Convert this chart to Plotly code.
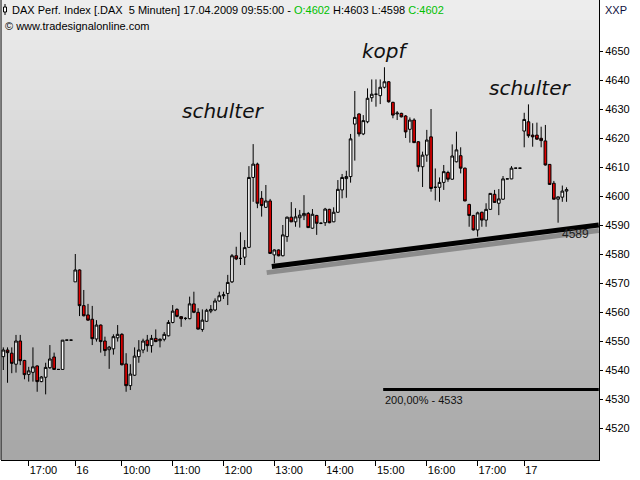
import plotly.graph_objects as go

# ---------------- data ----------------
opens = [4544.6, 4546.9, 4545.8, 4542.0, 4550.0, 4543.3, 4538.5, 4539.2, 4541.4, 4536.0,
         4537.5, 4540.8, 4544.5, 4540.2, 4540.2, 4550.3, 4550.3,
         4570.4, 4574.5, 4562.2, 4559.0, 4557.5, 4550.7, 4555.5, 4550.0, 4547.0, 4547.3,
         4551.1, 4552.3, 4542.1, 4534.6, 4538.2, 4544.6, 4546.9, 4550.3, 4548.4, 4550.9,
         4550.1, 4550.6, 4551.8, 4556.4, 4560.9, 4558.4, 4557.8, 4557.7, 4562.8, 4559.9,
         4554.0, 4556.8, 4560.3, 4560.7, 4563.8, 4565.6, 4566.4, 4570.4, 4579.4, 4578.5,
         4578.9, 4582.3, 4606.4, 4611.0, 4599.2, 4596.1, 4598.3, 4579.7, 4581.4, 4579.4,
         4586.0, 4592.7, 4591.1, 4592.5, 4593.2, 4594.0, 4588.9, 4593.3, 4590.6, 4590.8,
         4595.4, 4591.1, 4594.4, 4602.1, 4606.0, 4606.7, 4624.8, 4628.3, 4621.4, 4625.6,
         4633.9, 4635.1, 4634.6, 4637.5, 4639.4, 4632.3, 4628.3, 4628.5, 4627.6, 4623.0,
         4626.2, 4618.7, 4610.1, 4614.1, 4620.4, 4603.0, 4603.0, 4604.7, 4608.1, 4605.8,
         4611.8, 4613.9, 4609.6, 4597.1, 4593.3, 4588.3, 4594.4, 4591.7, 4595.4, 4600.6,
         4597.5, 4598.9, 4605.9, 4605.9, 4609.6, 4609.6,
         4622.4, 4625.6, 4621.0, 4621.0, 4619.9, 4619.0, 4610.9, 4604.4, 4598.9, 4599.6,
         4601.7]
highs = [4547.8, 4547.8, 4547.8, 4552.1, 4552.1, 4543.5, 4541.1, 4547.8, 4541.6, 4537.9,
         4542.5, 4548.6, 4546.0, 4540.2, 4550.3, 4550.3, 4550.3,
         4580.0, 4574.7, 4567.6, 4562.8, 4562.1, 4557.2, 4555.7, 4551.5, 4548.3, 4552.3,
         4555.5, 4552.7, 4545.8, 4542.0, 4547.8, 4550.3, 4550.8, 4552.1, 4552.1, 4554.0,
         4550.9, 4553.1, 4557.2, 4562.4, 4561.3, 4558.5, 4558.2, 4565.3, 4567.0, 4561.3,
         4560.9, 4561.1, 4562.4, 4564.7, 4567.0, 4567.0, 4572.8, 4580.0, 4582.5, 4587.5,
         4584.8, 4610.3, 4617.9, 4611.5, 4601.7, 4603.8, 4599.0, 4581.6, 4581.6, 4590.0,
         4592.9, 4597.9, 4595.8, 4595.2, 4600.3, 4594.5, 4595.5, 4593.5, 4590.9, 4595.9,
         4595.6, 4596.1, 4605.5, 4607.6, 4608.7, 4621.4, 4636.2, 4628.5, 4627.9, 4637.1,
         4640.2, 4640.2, 4640.2, 4644.4, 4639.6, 4632.5, 4629.3, 4628.7, 4627.9, 4627.1,
         4626.8, 4618.9, 4615.3, 4622.8, 4630.0, 4609.5, 4606.4, 4610.7, 4608.7, 4617.8,
         4622.2, 4616.8, 4609.8, 4597.3, 4593.5, 4594.6, 4594.6, 4597.5, 4601.0, 4602.1,
         4602.4, 4606.9, 4605.9, 4610.3, 4609.6, 4609.6,
         4628.7, 4631.6, 4625.1, 4625.3, 4623.9, 4624.5, 4611.0, 4605.2, 4599.8, 4603.6,
         4603.0]
lows = [4540.0, 4535.6, 4538.9, 4539.1, 4541.7, 4536.8, 4536.0, 4536.0, 4532.5, 4535.8,
        4531.6, 4540.4, 4540.0, 4540.2, 4540.2, 4550.3, 4550.3,
        4570.4, 4558.6, 4558.5, 4557.0, 4548.6, 4549.8, 4546.0, 4544.8, 4540.4, 4545.3,
        4549.8, 4541.6, 4532.5, 4533.1, 4538.0, 4542.5, 4545.8, 4546.3, 4546.0, 4549.6,
        4547.8, 4549.9, 4551.6, 4556.1, 4558.2, 4554.9, 4557.2, 4557.5, 4559.6, 4554.0,
        4553.2, 4556.6, 4559.6, 4560.3, 4563.6, 4564.5, 4562.4, 4570.0, 4577.9, 4576.2,
        4576.2, 4582.1, 4598.0, 4595.8, 4592.9, 4595.9, 4580.0, 4576.8, 4579.2, 4579.2,
        4584.2, 4591.0, 4589.4, 4589.1, 4591.7, 4589.0, 4588.7, 4586.6, 4590.3, 4589.7,
        4590.6, 4591.0, 4594.2, 4599.2, 4599.4, 4604.6, 4612.2, 4620.5, 4621.0, 4625.1,
        4632.5, 4630.8, 4631.7, 4637.1, 4632.2, 4626.8, 4626.2, 4627.1, 4620.0, 4618.4,
        4618.3, 4608.4, 4603.1, 4611.8, 4601.5, 4598.5, 4598.0, 4602.1, 4604.9, 4605.6,
        4611.6, 4607.8, 4598.2, 4589.4, 4588.1, 4586.0, 4589.4, 4589.4, 4595.2, 4597.6,
        4593.4, 4598.7, 4605.9, 4605.8, 4609.6, 4609.6,
        4616.8, 4620.1, 4617.0, 4619.4, 4616.8, 4610.5, 4603.8, 4598.8, 4590.8, 4598.0,
        4598.0]
closes = [4546.9, 4546.0, 4542.3, 4550.0, 4543.2, 4538.4, 4539.7, 4541.1, 4536.0, 4537.6,
          4540.9, 4543.8, 4540.2, 4540.2, 4550.3, 4550.3, 4550.3,
          4574.5, 4562.2, 4558.7, 4557.2, 4550.8, 4555.5, 4549.8, 4546.7, 4547.9, 4551.5,
          4552.3, 4541.8, 4534.6, 4538.6, 4544.8, 4546.9, 4550.0, 4548.4, 4550.9, 4549.8,
          4550.6, 4552.3, 4556.4, 4560.3, 4558.5, 4557.7, 4557.8, 4562.8, 4559.9, 4554.1,
          4557.2, 4560.6, 4560.9, 4563.8, 4565.6, 4565.9, 4570.2, 4579.4, 4578.3, 4578.5,
          4582.2, 4606.4, 4611.0, 4597.5, 4596.7, 4598.3, 4580.2, 4581.4, 4579.4, 4586.6,
          4592.7, 4591.1, 4592.8, 4593.4, 4594.0, 4589.1, 4593.7, 4590.6, 4590.6, 4595.5,
          4590.8, 4594.4, 4602.3, 4606.4, 4606.7, 4619.7, 4627.1, 4621.4, 4626.0, 4633.7,
          4635.1, 4635.1, 4637.5, 4639.4, 4632.5, 4627.9, 4628.6, 4627.3, 4622.1, 4626.2,
          4618.4, 4610.1, 4614.1, 4619.3, 4602.6, 4603.0, 4604.7, 4608.4, 4605.8, 4613.8,
          4615.9, 4609.6, 4598.3, 4593.3, 4588.3, 4594.2, 4591.7, 4595.4, 4600.9, 4597.8,
          4599.0, 4605.9, 4605.9, 4609.6, 4609.6, 4609.6,
          4626.4, 4620.8, 4620.4, 4619.6, 4619.1, 4610.7, 4604.0, 4598.9, 4599.7, 4601.7,
          4602.2]

# session days and bar times (5-minute bars)
def bar_times(day, start_h, start_m, count):
    out = []
    h, m = start_h, start_m
    for _ in range(count):
        out.append(f"{day} {h:02d}:{m:02d}")
        m += 5
        if m >= 60:
            m -= 60
            h += 1
    return out

times = bar_times("15.04", 16, 30, 17) + bar_times("16.04", 9, 5, 106) + bar_times("17.04", 9, 5, 11)
idx = list(range(len(times)))

tick_times = ["15.04 17:00", "16.04 09:05", "16.04 10:00", "16.04 11:00", "16.04 12:00",
              "16.04 13:00", "16.04 14:00", "16.04 15:00", "16.04 16:00", "16.04 17:00",
              "17.04 09:05"]
tick_text = ["17:00", "16", "10:00", "11:00", "12:00", "13:00", "14:00", "15:00", "16:00",
             "17:00", "17"]
y_ticks = [4520, 4530, 4540, 4550, 4560, 4570, 4580, 4590, 4600, 4610, 4620, 4630, 4640, 4650]

# support trend line (neckline) and 200% projection level
trend_x = [63.4, 140.6]
trend_y = [4575.7, 4590.0]
fib_x = [89.7, 140.6]
fib_level = 4533.3

pattern_labels = ["schulter", "kopf", "schulter"]

# ---------------- figure ----------------
FONT = "Liberation Sans, Arial, sans-serif"
fig = go.Figure()

# gradient background strips
n_strips = 46
shapes = []
for k in range(n_strips):
    c = int(round(238 - 72 * (k + 0.5) / n_strips))
    shapes.append(dict(type="rect", xref="paper", yref="paper", x0=0, x1=1,
                       y0=1 - (k + 1) / n_strips, y1=1 - k / n_strips,
                       fillcolor=f"rgb({c},{c},{c})", line=dict(width=0), layer="below"))
# left border
shapes.append(dict(type="line", xref="paper", yref="paper", x0=0, x1=0, y0=0, y1=1,
                   line=dict(color="black", width=1)))
# header candle icon
W, H = 598.0, 460.0
def px(x):
    return (x - 1) / W
def py(y):
    return 1 - y / H
shapes.append(dict(type="line", xref="paper", yref="paper", x0=px(5), x1=px(5), y0=py(4), y1=py(15),
                   line=dict(color="black", width=1)))
shapes.append(dict(type="rect", xref="paper", yref="paper", x0=px(3.5), x1=px(6.5), y0=py(12), y1=py(7),
                   fillcolor="white", line=dict(color="black", width=1)))

# trend line shadow + trend line
shadow_x = [trend_x[0] - 1.2, trend_x[1]]
slope = (trend_y[1] - trend_y[0]) / (trend_x[1] - trend_x[0])
shadow_y = [trend_y[0] - 1.9 - 1.2 * slope, trend_y[1] - 1.9]
fig.add_trace(go.Scatter(x=shadow_x, y=shadow_y, mode="lines",
                         line=dict(color="#8c8c8c", width=5), hoverinfo="skip", showlegend=False))
fig.add_trace(go.Scatter(x=trend_x, y=trend_y, mode="lines",
                         line=dict(color="black", width=5), hoverinfo="skip", showlegend=False))
fig.add_trace(go.Scatter(x=fib_x, y=[fib_level, fib_level], mode="lines",
                         line=dict(color="black", width=3), hoverinfo="skip", showlegend=False))

fig.add_trace(go.Candlestick(
    x=idx, open=opens, high=highs, low=lows, close=closes,
    increasing=dict(line=dict(color="black", width=1), fillcolor="white"),
    decreasing=dict(line=dict(color="black", width=1), fillcolor="#e00000"),
    whiskerwidth=0, showlegend=False, text=times, hoverinfo="text+y"))

tickvals = [times.index(t) for t in tick_times]
last = len(times) - 1
trend_last = trend_y[0] + slope * (last - trend_x[0])

green = "#00c000"
header = ("DAX Perf. Index [.DAX  5 Minuten] 17.04.2009 09:55:00 - "
          f"<span style='color:{green}'>O:{opens[-1]:.0f}</span> H:{highs[-1]:.0f} "
          f"L:{lows[-1]:.0f} <span style='color:{green}'>C:{closes[-1]:.0f}</span>")

hand = dict(family="DejaVu Sans", size=20, color="#111111", style="italic")
annotations = [
    dict(xref="paper", yref="paper", x=px(10), y=py(10), xanchor="left", yanchor="middle",
         text=header, showarrow=False, font=dict(family=FONT, size=11, color="black")),
    dict(xref="paper", yref="paper", x=px(3), y=py(26), xanchor="left", yanchor="middle",
         text="© www.tradesignalonline.com", showarrow=False,
         font=dict(family=FONT, size=11, color="black")),
    dict(xref="paper", yref="paper", x=px(603), y=py(10), xanchor="left", yanchor="middle",
         text="XXP", showarrow=False, font=dict(family=FONT, size=11, color="#101040")),
    dict(xref="paper", yref="paper", x=px(223), y=py(111), xanchor="center", yanchor="middle",
         text=pattern_labels[0], showarrow=False, font=hand),
    dict(xref="paper", yref="paper", x=px(385), y=py(51), xanchor="center", yanchor="middle",
         text=pattern_labels[1], showarrow=False, font=hand),
    dict(xref="paper", yref="paper", x=px(530), y=py(88), xanchor="center", yanchor="middle",
         text=pattern_labels[2], showarrow=False, font=hand),
    dict(x=fib_x[0], y=fib_level, xanchor="left", yanchor="middle", yshift=-11, xshift=0,
         text=f"200,00% - {fib_level:.0f}", showarrow=False,
         font=dict(family=FONT, size=11, color="#111111")),
    dict(x=trend_x[1], y=trend_y[1], xanchor="right", yanchor="middle", yshift=-9, xshift=-8,
         text=f"{trend_last:.0f}", showarrow=False,
         font=dict(family=FONT, size=12, color="#222222")),
]

fig.update_layout(
    width=640, height=480,
    margin=dict(l=1, r=41, t=0, b=20),
    paper_bgcolor="white", plot_bgcolor="#d0d0d0",
    shapes=shapes, annotations=annotations,
    showlegend=False, dragmode=False, boxgap=0.1,
    xaxis=dict(range=[-0.543, 140.66], rangeslider=dict(visible=False), showgrid=False,
               zeroline=False, tickvals=tickvals, ticktext=tick_text, ticks="outside",
               ticklen=5, tickcolor="black", showline=True, linecolor="black", linewidth=1,
               ticklabelposition="outside right",
               tickfont=dict(family=FONT, size=11, color="black")),
    yaxis=dict(range=[4508.97, 4667.59], side="right", showgrid=False, zeroline=False,
               tickvals=y_ticks, ticks="outside", ticklen=3, tickcolor="black",
               showline=True, linecolor="black", linewidth=1,
               tickfont=dict(family=FONT, size=11, color="black")),
)

fig.write_html("out.html", config={"displayModeBar": False},
               post_script="document.body.style.margin='0px';document.body.style.padding='0px';")
